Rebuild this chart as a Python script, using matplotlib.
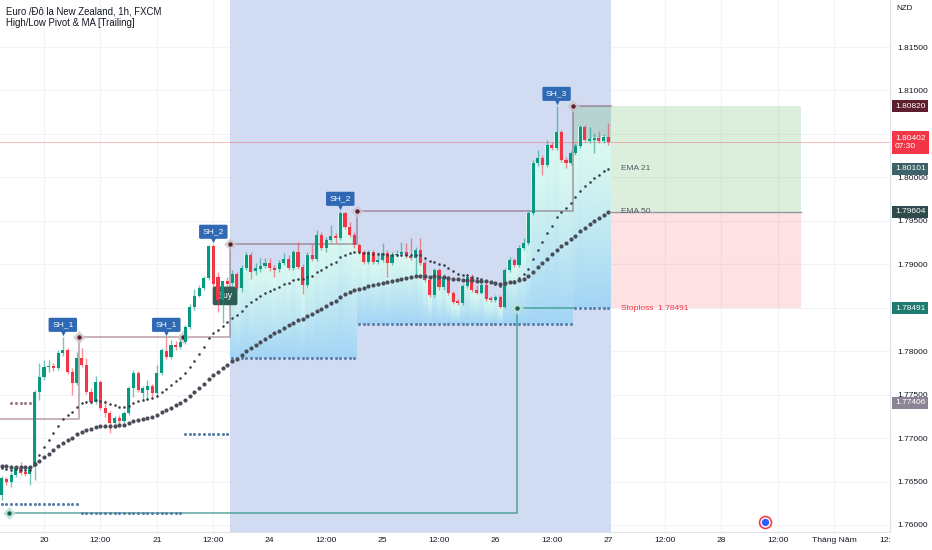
import numpy as np
import matplotlib
matplotlib.use("Agg")
import matplotlib.pyplot as plt
import matplotlib.transforms as mtransforms

plt.rcParams['font.family'] = ['Liberation Sans', 'DejaVu Sans']

# EUR/NZD 1h candles (bar 0 = left edge)
opens = [
    1.76344, 1.76528, 1.76493, 1.76574, 1.76654, 1.76608, 1.76585, 1.76666, 1.77529, 1.77702,
    1.77817, 1.77828, 1.77805, 1.77978, 1.78013, 1.77759, 1.77633, 1.77921, 1.77840, 1.77529,
    1.77414, 1.77644, 1.77345, 1.77287, 1.77172, 1.77230, 1.77195, 1.77287, 1.77575, 1.77748,
    1.77518, 1.77552, 1.77598, 1.77518, 1.77748, 1.78001, 1.77932, 1.78070, 1.78047, 1.78105,
    1.78277, 1.78507, 1.78634, 1.78726, 1.78841, 1.79210, 1.78853, 1.78588, 1.78807, 1.78784,
    1.78887, 1.78726, 1.78956, 1.79106, 1.78922, 1.78945, 1.78979, 1.79014, 1.78956, 1.78945,
    1.79014, 1.79060, 1.78956, 1.79141, 1.78968, 1.78761, 1.79106, 1.79060, 1.79336, 1.79187,
    1.79279, 1.79325, 1.79302, 1.79589, 1.79428, 1.79336, 1.79221, 1.79141, 1.79025, 1.79141,
    1.79025, 1.79048, 1.79129, 1.79014, 1.79106, 1.79118, 1.79141, 1.79094, 1.79071, 1.79164,
    1.79014, 1.78818, 1.78646, 1.78933, 1.78738, 1.78853, 1.78669, 1.78577, 1.78554, 1.78749,
    1.78853, 1.78703, 1.78669, 1.78761, 1.78611, 1.78588, 1.78623, 1.78507, 1.78933, 1.79048,
    1.78991, 1.79187, 1.79244, 1.79589, 1.80165, 1.80222, 1.80142, 1.80372, 1.80338, 1.80522,
    1.80199, 1.80165, 1.80280, 1.80361, 1.80579, 1.80418, 1.80430, 1.80453, 1.80418, 1.80464,
]
highs = [
    1.76562, 1.76551, 1.76608, 1.76677, 1.76723, 1.76677, 1.76689, 1.77552, 1.77863, 1.77897,
    1.77897, 1.77863, 1.78013, 1.78162, 1.78036, 1.77805, 1.77990, 1.78036, 1.77921, 1.77575,
    1.77713, 1.77667, 1.77437, 1.77310, 1.77253, 1.77264, 1.77310, 1.77598, 1.77782, 1.77771,
    1.77598, 1.77667, 1.77621, 1.77840, 1.78036, 1.78162, 1.78128, 1.78116, 1.78140, 1.78300,
    1.78542, 1.78715, 1.78761, 1.78864, 1.79221, 1.79233, 1.78910, 1.78749, 1.78853, 1.78933,
    1.78910, 1.78991, 1.79141, 1.79141, 1.79014, 1.79071, 1.79071, 1.79071, 1.78991, 1.79048,
    1.79129, 1.79106, 1.79164, 1.79256, 1.79002, 1.79141, 1.79233, 1.79394, 1.79371, 1.79313,
    1.79451, 1.79359, 1.79612, 1.79600, 1.79486, 1.79371, 1.79244, 1.79164, 1.79164, 1.79164,
    1.79141, 1.79244, 1.79164, 1.79141, 1.79164, 1.79256, 1.79244, 1.79302, 1.79198, 1.79302,
    1.79048, 1.78841, 1.78956, 1.78956, 1.78887, 1.78876, 1.78692, 1.78600, 1.78772, 1.78876,
    1.78887, 1.78761, 1.78795, 1.78784, 1.78634, 1.78646, 1.78646, 1.78956, 1.79083, 1.79071,
    1.79221, 1.79302, 1.79612, 1.80199, 1.80315, 1.80257, 1.80430, 1.80407, 1.80820, 1.80545,
    1.80234, 1.80303, 1.80395, 1.80602, 1.80602, 1.80579, 1.80510, 1.80533, 1.80499, 1.80625,
]
lows = [
    1.76286, 1.76459, 1.76436, 1.76551, 1.76574, 1.76562, 1.76459, 1.76516, 1.77437, 1.77667,
    1.77759, 1.77771, 1.77782, 1.77943, 1.77736, 1.77495, 1.77610, 1.77817, 1.77506, 1.77391,
    1.77391, 1.77322, 1.77241, 1.77057, 1.77115, 1.77126, 1.77172, 1.77264, 1.77472, 1.77529,
    1.77437, 1.77437, 1.77472, 1.77495, 1.77725, 1.77909, 1.77909, 1.78013, 1.78024, 1.78082,
    1.78254, 1.78473, 1.78623, 1.78703, 1.78818, 1.78726, 1.78450, 1.78323, 1.78703, 1.78749,
    1.78703, 1.78680, 1.78933, 1.78830, 1.78876, 1.78910, 1.78956, 1.78922, 1.78853, 1.78910,
    1.78991, 1.78933, 1.78933, 1.78945, 1.78657, 1.78738, 1.79037, 1.79037, 1.79164, 1.79141,
    1.79256, 1.79244, 1.79279, 1.79405, 1.79313, 1.79187, 1.79118, 1.79002, 1.79002, 1.79002,
    1.79002, 1.79025, 1.78853, 1.78991, 1.79083, 1.79094, 1.79071, 1.79048, 1.78876, 1.78991,
    1.78795, 1.78623, 1.78623, 1.78703, 1.78703, 1.78646, 1.78542, 1.78530, 1.78530, 1.78726,
    1.78680, 1.78657, 1.78657, 1.78577, 1.78565, 1.78565, 1.78491, 1.78500, 1.78910, 1.78968,
    1.78968, 1.79164, 1.79221, 1.79566, 1.80130, 1.80027, 1.80119, 1.80315, 1.80315, 1.80176,
    1.80107, 1.80142, 1.80257, 1.80338, 1.80407, 1.80395, 1.80280, 1.80395, 1.80395, 1.80372,
]
closes = [
    1.76539, 1.76493, 1.76574, 1.76654, 1.76597, 1.76585, 1.76666, 1.77529, 1.77702, 1.77817,
    1.77828, 1.77805, 1.77978, 1.78013, 1.77759, 1.77633, 1.77921, 1.77840, 1.77529, 1.77414,
    1.77644, 1.77345, 1.77287, 1.77172, 1.77230, 1.77195, 1.77287, 1.77575, 1.77748, 1.77552,
    1.77575, 1.77598, 1.77518, 1.77748, 1.78013, 1.77932, 1.78070, 1.78047, 1.78105, 1.78277,
    1.78507, 1.78634, 1.78726, 1.78841, 1.79210, 1.78772, 1.78588, 1.78807, 1.78772, 1.78887,
    1.78726, 1.78956, 1.79106, 1.78910, 1.78956, 1.78979, 1.79014, 1.78956, 1.78933, 1.79014,
    1.79060, 1.78956, 1.79141, 1.78968, 1.78761, 1.79106, 1.79060, 1.79336, 1.79187, 1.79279,
    1.79325, 1.79302, 1.79589, 1.79428, 1.79336, 1.79221, 1.79141, 1.79025, 1.79141, 1.79025,
    1.79048, 1.79129, 1.79014, 1.79106, 1.79118, 1.79141, 1.79094, 1.79071, 1.79164, 1.79014,
    1.78818, 1.78646, 1.78933, 1.78738, 1.78853, 1.78669, 1.78565, 1.78554, 1.78749, 1.78853,
    1.78703, 1.78669, 1.78761, 1.78600, 1.78588, 1.78623, 1.78507, 1.78933, 1.79048, 1.78991,
    1.79187, 1.79244, 1.79589, 1.80165, 1.80222, 1.80142, 1.80372, 1.80338, 1.80522, 1.80199,
    1.80165, 1.80280, 1.80361, 1.80579, 1.80430, 1.80441, 1.80453, 1.80418, 1.80464, 1.80402,
]

tick_labels = ["20", "12:00", "21", "12:00", "24", "12:00", "25", "12:00", "26",
               "12:00", "27", "12:00", "28", "12:00", "Tháng Năm"]
price_ticks = [1.760, 1.765, 1.770, 1.775, 1.780, 1.785, 1.790, 1.795, 1.800, 1.805, 1.810, 1.815]

# pivot highs (SH labels) and the levels the indicator trails
high_pivot_bars = [13, 35, 45, 72, 118]
high_pivot_names = ["SH_1", "SH_1", "SH_2", "SH_2", "SH_3"]
high_trail_start = 1.77220
low_pivot_bars = [-2, 106]
low_pivot_values = [1.76138, 1.78491]
stop_levels = [1.76242, 1.76138, 1.77047, 1.77922, 1.78313, 1.78491]
old_level = 1.77406
old_level_bars = [2, 6]
ema21_seed = 1.7667
ema50_seed = 1.7669

target = 1.80820
entry = 1.79604
stoploss = 1.78491
last_price = 1.80402
countdown = "07:30"
ema21_last = 1.80101
ema50_last = 1.79604

GREEN = '#089981'
RED = '#f23645'
PIVOT_LAG = 3.5
BOX_END = 170


def ema(values, length, seed):
    out = np.empty(len(values))
    a = 2.0 / (length + 1)
    prev = seed
    for i, v in enumerate(values):
        prev = prev + a * (v - prev)
        out[i] = prev
    return out


o = np.array(opens)
h = np.array(highs)
l = np.array(lows)
c = np.array(closes)
n = len(c)
bars = np.arange(n)

fig = plt.figure(figsize=(9.32, 5.5), dpi=100)
ax = fig.add_axes([0, 18 / 550, 890 / 932, 532 / 550])
xmin, xmax = -0.36, 188.9
ymin, ymax = 1.75919, 1.82041

ax.grid(True, color='#f0f3fa', lw=0.8)
ax.set_axisbelow(True)

confirm = np.array(high_pivot_bars) + PIVOT_LAG
buy_start = confirm[2]
ax.axvspan(buy_start, n - 0.5, color='#d1dcf3', zorder=0.6, lw=0)

# position boxes
ax.fill_between([confirm[-1], BOX_END], entry, target, color=(76/255, 175/255, 80/255, 0.2), lw=0, zorder=0.7)
ax.fill_between([confirm[-1], BOX_END], stoploss, entry, color=(242/255, 54/255, 69/255, 0.15), lw=0, zorder=0.7)
ax.plot([n - 0.5, BOX_END], [entry, entry], color='#9598a1', lw=1, zorder=0.8)

# trailing stop per bar
stop_per_bar = np.array(stop_levels)[np.searchsorted(confirm, bars)]

# gradient fill between price and trailing stop
gxs = np.linspace(buy_start, n - 0.5, 900)
gys = np.linspace(1.776, 1.808, 600)
bi = np.clip(np.floor(gxs + 0.5).astype(int), 0, n - 1)
top = c[bi]
bot = stop_per_bar[bi]
T = (top[None, :] - gys[:, None]) / (top - bot)[None, :]
inside = (T >= 0) & (T <= 1)
c_top = np.array([218, 249, 240]) / 255
c_bot = np.array([162, 212, 246]) / 255
Tc = np.clip(T, 0, 1) ** 1.3
rgba = np.zeros((len(gys), len(gxs), 4))
rgba[..., :3] = c_top + (c_bot - c_top) * Tc[..., None]
rgba[..., 3] = inside.astype(float)
ax.imshow(rgba, extent=[gxs[0], gxs[-1], gys[0], gys[-1]], origin='lower',
          aspect='auto', interpolation='nearest', zorder=1)

# current price line
ax.axhline(last_price, color=RED, lw=0.7, alpha=0.35, zorder=1.5)

# trailing high line
high_levels = [high_trail_start] + [h[b] for b in high_pivot_bars]
tx, ty = [xmin], [high_levels[0]]
for ci, lev_prev, lev in zip(confirm, high_levels[:-1], high_levels[1:]):
    tx += [ci, ci]
    ty += [lev_prev, lev]
tx.append(n - 0.5)
ty.append(high_levels[-1])
ax.plot(tx, ty, color='#5d1f2e', alpha=0.4, lw=1.2, zorder=2.5)

# trailing low line
low_confirm = np.array(low_pivot_bars) + PIVOT_LAG
lx = [low_confirm[0], low_confirm[1], low_confirm[1], confirm[-1]]
ly = [low_pivot_values[0], low_pivot_values[0], low_pivot_values[1], low_pivot_values[1]]
ax.plot(lx, ly, color='#2a8f80', alpha=0.7, lw=1.2, zorder=2.5)

# trailing stop dots
ax.scatter(bars, stop_per_bar, s=5, color='#5a7fa8', lw=0, zorder=2.6)
ob = np.arange(old_level_bars[0], old_level_bars[1] + 1)
ax.scatter(ob, np.full(len(ob), old_level), s=5, color='#9c7b8c', lw=0, zorder=2.6)

# pivot markers
for ci, lev in zip(confirm, high_levels[1:]):
    ax.scatter([ci], [lev], marker='D', s=42, color='#c9c6cc', alpha=0.8, lw=0, zorder=2.7)
    ax.scatter([ci], [lev], s=10, color='#5d1f2e', lw=0, zorder=2.8)
for ci, lev in zip(low_confirm, low_pivot_values):
    ax.scatter([ci], [lev], marker='D', s=42, color='#b9e2d6', alpha=0.9, lw=0, zorder=2.7)
    ax.scatter([ci], [lev], s=10, color='#1e5e56', lw=0, zorder=2.8)

# buy label (sits under the candles)
ax.annotate('Buy', xy=(buy_start - 1.0, c[46]), xytext=(0, 3), textcoords='offset points',
            ha='center', va='center', fontsize=6.3, color='white', zorder=2.9,
            bbox=dict(boxstyle='round,pad=0.55,rounding_size=0.2', fc='#2d5e57', ec='none'))

# candles
up = c >= o
body_col = np.where(up, GREEN, RED)
wick_col = [(8/255, 153/255, 129/255, 0.55) if u else (242/255, 54/255, 69/255, 0.55) for u in up]
ax.vlines(bars, l, h, colors=wick_col, lw=1, zorder=3)
ax.bar(bars, np.maximum(np.abs(c - o), 0.00009), bottom=np.minimum(o, c), width=0.66,
       color=body_col, lw=0, zorder=3.1)

# EMAs
e21 = ema(c, 21, ema21_seed)
e50 = ema(c, 50, ema50_seed)
ax.scatter(bars, e21, s=3.5, color='#3b3e48', lw=0, zorder=4)
ax.scatter(bars, e50, s=9, color='#4a4d57', lw=0, zorder=4)

# SH labels
tri = mtransforms.offset_copy(ax.transData, fig=fig, x=0, y=4, units='dots')
for b, name in zip(high_pivot_bars, high_pivot_names):
    ax.annotate(name, xy=(b, h[b]), xytext=(0, 6.3), textcoords='offset points',
                ha='center', va='bottom', fontsize=6.1, color='white', zorder=5,
                bbox=dict(boxstyle='round,pad=0.42,rounding_size=0.15', fc='#2f69b3', ec='none'))
    ax.scatter([b], [h[b]], marker='v', s=16, color='#2f69b3', lw=0, zorder=5, transform=tri)

# right side texts
ax.text(n + 1.7, ema21_last, 'EMA 21', fontsize=6, color='#555a66', va='center', zorder=5)
ax.text(n + 1.7, ema50_last, 'EMA 50', fontsize=6, color='#555a66', va='center', zorder=5)
ax.text(n + 1.7, stoploss, 'Stoploss  %.5f' % stoploss, fontsize=6, color=RED, va='center', zorder=5)

# event icon near the time axis
for s, col in [(95, RED), (55, 'white'), (28, '#2962ff')]:
    ax.scatter([765 / 890], [10 / 532], s=s, color=col, lw=0, transform=ax.transAxes,
               clip_on=False, zorder=6)

ax.set_xlim(xmin, xmax)
ax.set_ylim(ymin, ymax)
ax.set_xticks(9 + 12 * np.arange(len(tick_labels)))
ax.set_xticklabels(tick_labels)
ax.yaxis.tick_right()
ax.set_yticks(price_ticks)
# the 1.785 tick label is fully hidden behind the stoploss badge in the original
ax.set_yticklabels(['' if abs(p - stoploss) < 0.0002 else '%.5f' % p for p in price_ticks])
ax.tick_params(axis='x', length=0, pad=3.5, labelsize=6.1, colors='#131722')
ax.tick_params(axis='y', length=0, pad=5, labelsize=6.0, colors='#131722')
for side in ['top', 'left']:
    ax.spines[side].set_visible(False)
for side in ['right', 'bottom']:
    ax.spines[side].set_color('#e0e3eb')
    ax.spines[side].set_linewidth(0.8)

# price-scale badges
yt = mtransforms.blended_transform_factory(ax.transAxes, ax.transData)
badges = [(target, '#5d1f2e'), (ema21_last, '#3d6268'), (ema50_last, '#2d4a4c'),
          (stoploss, '#1e7b70'), (old_level, '#8c8494')]
for val, col in badges:
    ax.text(1.0055, val, '%.5f' % val, transform=yt, fontsize=6.0, color='white',
            va='center', ha='left', clip_on=False, zorder=10,
            bbox=dict(boxstyle='square,pad=0.3', fc=col, ec='none'))
ax.text(1.0055, last_price, '%.5f\n%s' % (last_price, countdown), transform=yt, fontsize=6.0,
        color='white', va='center', ha='left', clip_on=False, zorder=10, linespacing=1.3,
        bbox=dict(boxstyle='square,pad=0.4', fc=RED, ec='none'))

fig.text(905 / 932, 1 - 8 / 550, 'NZD', fontsize=5.8, color='#131722', ha='center', va='center')
fig.text(885 / 932, 1 - 541 / 550, '12:', fontsize=6.1, color='#131722', ha='center', va='center')
fig.text(6 / 932, 1 - 11 / 550, 'Euro /Đô la New Zealand, 1h, FXCM', fontsize=6.9,
         color='#131722', va='center')
fig.text(6 / 932, 1 - 23 / 550, 'High/Low Pivot & MA [Trailing]', fontsize=6.9,
         color='#131722', va='center')

fig.savefig('out.png', dpi=100)
